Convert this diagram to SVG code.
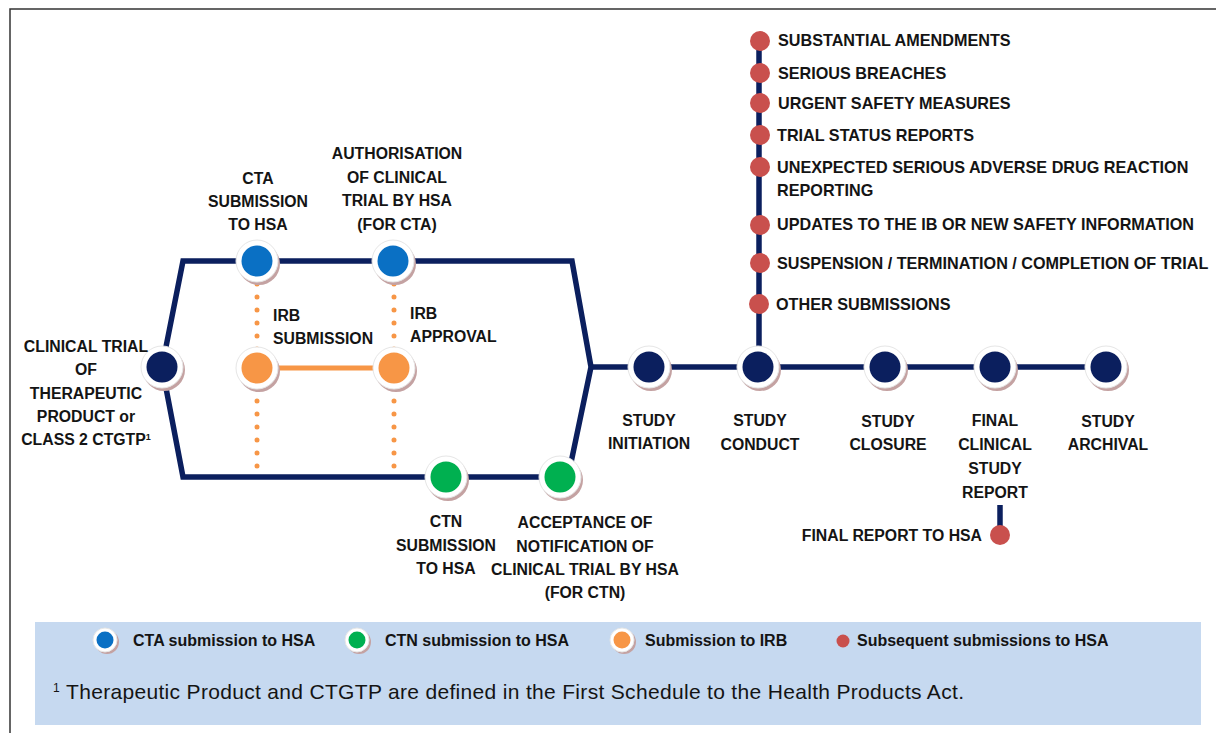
<svg xmlns="http://www.w3.org/2000/svg" width="1216" height="733" viewBox="0 0 1216 733">
<style>
.t{font-family:"Liberation Sans",Arial,sans-serif;font-weight:bold;font-size:15.8px;fill:#141414;text-anchor:middle}
.r{font-family:"Liberation Sans",Arial,sans-serif;font-weight:bold;font-size:16.2px;fill:#141414}
.lg{font-family:"Liberation Sans",Arial,sans-serif;font-weight:bold;font-size:16px;fill:#141414}
.fn{font-family:"Liberation Sans",Arial,sans-serif;font-size:21px;fill:#141414}
.nv{fill:none;stroke:#0b1f5e;stroke-width:5.5;stroke-linejoin:miter}
.dot{fill:none;stroke:#f79646;stroke-width:5;stroke-linecap:round;stroke-dasharray:0 13}
.sh{fill:#c4a2a2}
.ring{fill:#ffffff;stroke:#e6e6e6;stroke-width:1}
.navy{fill:#0b1f5e}
.blue{fill:#0a70c4}
.green{fill:#00b050}
.orange{fill:#f79646}
.red{fill:#c9504d}
</style>
<defs>
<g id="base"><circle cx="2" cy="3" r="21" class="sh"/><circle r="21" class="ring"/></g>
</defs>
<rect x="10" y="9" width="1215" height="735" fill="#ffffff" stroke="#333333" stroke-width="1.5"/>

<g id="connectors">
<polyline class="nv" points="162,367 183,261 572,261 591,367 568,477"/>
<polyline class="nv" points="162,367 183,477 568,477"/>
<line class="nv" x1="591" y1="367" x2="1106" y2="367"/>
<line class="nv" x1="759" y1="367" x2="759" y2="40"/>
<line class="nv" x1="1000" y1="505" x2="1000" y2="535"/>
<line class="dot" x1="257" y1="284" x2="257" y2="470"/>
<line class="dot" x1="394" y1="284" x2="394" y2="470"/>
<line x1="257" y1="368" x2="394" y2="368" stroke="#f79646" stroke-width="5"/>
</g>

<g id="n-start"><use href="#base" x="162" y="367"/><circle cx="162" cy="367" r="15.5" class="navy"/>
<text class="t"><tspan x="86" y="352">CLINICAL TRIAL</tspan><tspan x="86" y="375">OF</tspan><tspan x="86" y="399">THERAPEUTIC</tspan><tspan x="86" y="422">PRODUCT or</tspan><tspan x="86" y="445">CLASS 2 CTGTP<tspan font-size="9" dy="-5">1</tspan></tspan></text></g>

<g id="n-cta"><use href="#base" x="257" y="261"/><circle cx="257" cy="261" r="15.5" class="blue"/>
<text class="t"><tspan x="258" y="184">CTA</tspan><tspan x="258" y="207">SUBMISSION</tspan><tspan x="258" y="230">TO HSA</tspan></text></g>

<g id="n-auth"><use href="#base" x="393" y="261"/><circle cx="393" cy="261" r="15.5" class="blue"/>
<text class="t"><tspan x="397" y="159">AUTHORISATION</tspan><tspan x="397" y="183">OF CLINICAL</tspan><tspan x="397" y="206">TRIAL BY HSA</tspan><tspan x="397" y="230">(FOR CTA)</tspan></text></g>

<g id="n-irbsub"><use href="#base" x="257" y="368"/><circle cx="257" cy="368" r="15.5" class="orange"/>
<text class="t" style="text-anchor:start"><tspan x="273" y="321">IRB</tspan><tspan x="273" y="344">SUBMISSION</tspan></text></g>

<g id="n-irbapp"><use href="#base" x="394" y="368"/><circle cx="394" cy="368" r="15.5" class="orange"/>
<text class="t" style="text-anchor:start"><tspan x="410" y="319">IRB</tspan><tspan x="410" y="342">APPROVAL</tspan></text></g>

<g id="n-ctn"><use href="#base" x="446" y="477"/><circle cx="446" cy="477" r="15.5" class="green"/>
<text class="t"><tspan x="446" y="527">CTN</tspan><tspan x="446" y="551">SUBMISSION</tspan><tspan x="446" y="574">TO HSA</tspan></text></g>

<g id="n-accept"><use href="#base" x="560" y="477"/><circle cx="560" cy="477" r="15.5" class="green"/>
<text class="t"><tspan x="585" y="528">ACCEPTANCE OF</tspan><tspan x="585" y="552">NOTIFICATION OF</tspan><tspan x="585" y="575">CLINICAL TRIAL BY HSA</tspan><tspan x="585" y="598">(FOR CTN)</tspan></text></g>

<g id="n-init"><use href="#base" x="649" y="367"/><circle cx="649" cy="367" r="15.5" class="navy"/>
<text class="t"><tspan x="649" y="426">STUDY</tspan><tspan x="649" y="449">INITIATION</tspan></text></g>

<g id="n-conduct"><use href="#base" x="758" y="367"/><circle cx="758" cy="367" r="15.5" class="navy"/>
<text class="t"><tspan x="760" y="426">STUDY</tspan><tspan x="760" y="450">CONDUCT</tspan></text></g>

<g id="n-closure"><use href="#base" x="885" y="367"/><circle cx="885" cy="367" r="15.5" class="navy"/>
<text class="t"><tspan x="888" y="427">STUDY</tspan><tspan x="888" y="450">CLOSURE</tspan></text></g>

<g id="n-final"><use href="#base" x="995" y="367"/><circle cx="995" cy="367" r="15.5" class="navy"/>
<text class="t"><tspan x="995" y="426">FINAL</tspan><tspan x="995" y="450">CLINICAL</tspan><tspan x="995" y="474">STUDY</tspan><tspan x="995" y="498">REPORT</tspan></text></g>

<g id="n-archival"><use href="#base" x="1106" y="367"/><circle cx="1106" cy="367" r="15.5" class="navy"/>
<text class="t"><tspan x="1108" y="427">STUDY</tspan><tspan x="1108" y="450">ARCHIVAL</tspan></text></g>

<g id="n-finalreport"><circle cx="1000" cy="535" r="10" class="red"/>
<text class="r" x="982" y="541" style="text-anchor:end;font-size:15.8px">FINAL REPORT TO HSA</text></g>

<g id="subsequent">
<circle cx="760" cy="41" r="10" class="red"/><text class="r" x="778" y="46">SUBSTANTIAL AMENDMENTS</text>
<circle cx="760" cy="73" r="10" class="red"/><text class="r" x="778" y="79">SERIOUS BREACHES</text>
<circle cx="760" cy="103" r="10" class="red"/><text class="r" x="778" y="109">URGENT SAFETY MEASURES</text>
<circle cx="760" cy="135" r="10" class="red"/><text class="r" x="777" y="141">TRIAL STATUS REPORTS</text>
<circle cx="760" cy="167" r="10" class="red"/><text class="r"><tspan x="777" y="173">UNEXPECTED SERIOUS ADVERSE DRUG REACTION</tspan><tspan x="777" y="196">REPORTING</tspan></text>
<circle cx="760" cy="225" r="10" class="red"/><text class="r" x="777" y="230">UPDATES TO THE IB OR NEW SAFETY INFORMATION</text>
<circle cx="760" cy="263" r="10" class="red"/><text class="r" x="777" y="269">SUSPENSION / TERMINATION / COMPLETION OF TRIAL</text>
<circle cx="759" cy="304" r="10" class="red"/><text class="r" x="776" y="310">OTHER SUBMISSIONS</text>
</g>

<g id="legend">
<rect x="35" y="622" width="1166" height="103" fill="#c6d9f0"/>
<circle cx="107" cy="642" r="12" class="sh"/><circle cx="105" cy="640" r="12" class="ring"/><circle cx="105" cy="640" r="8.5" class="blue"/>
<text class="lg" x="133" y="646">CTA submission to HSA</text>
<circle cx="359" cy="642" r="12" class="sh"/><circle cx="357" cy="640" r="12" class="ring"/><circle cx="357" cy="640" r="8.5" class="green"/>
<text class="lg" x="385" y="646">CTN submission to HSA</text>
<circle cx="624" cy="642" r="12" class="sh"/><circle cx="622" cy="640" r="12" class="ring"/><circle cx="622" cy="640" r="8.5" class="orange"/>
<text class="lg" x="645" y="646">Submission to IRB</text>
<circle cx="843" cy="641" r="6.5" class="red"/>
<text class="lg" x="857" y="646">Subsequent submissions to HSA</text>
<text class="fn" y="699"><tspan x="53" font-size="12" dy="-7">1</tspan><tspan x="66" dy="7" textLength="898">Therapeutic Product and CTGTP are defined in the First Schedule to the Health Products Act.</tspan></text>
</g>
</svg>
